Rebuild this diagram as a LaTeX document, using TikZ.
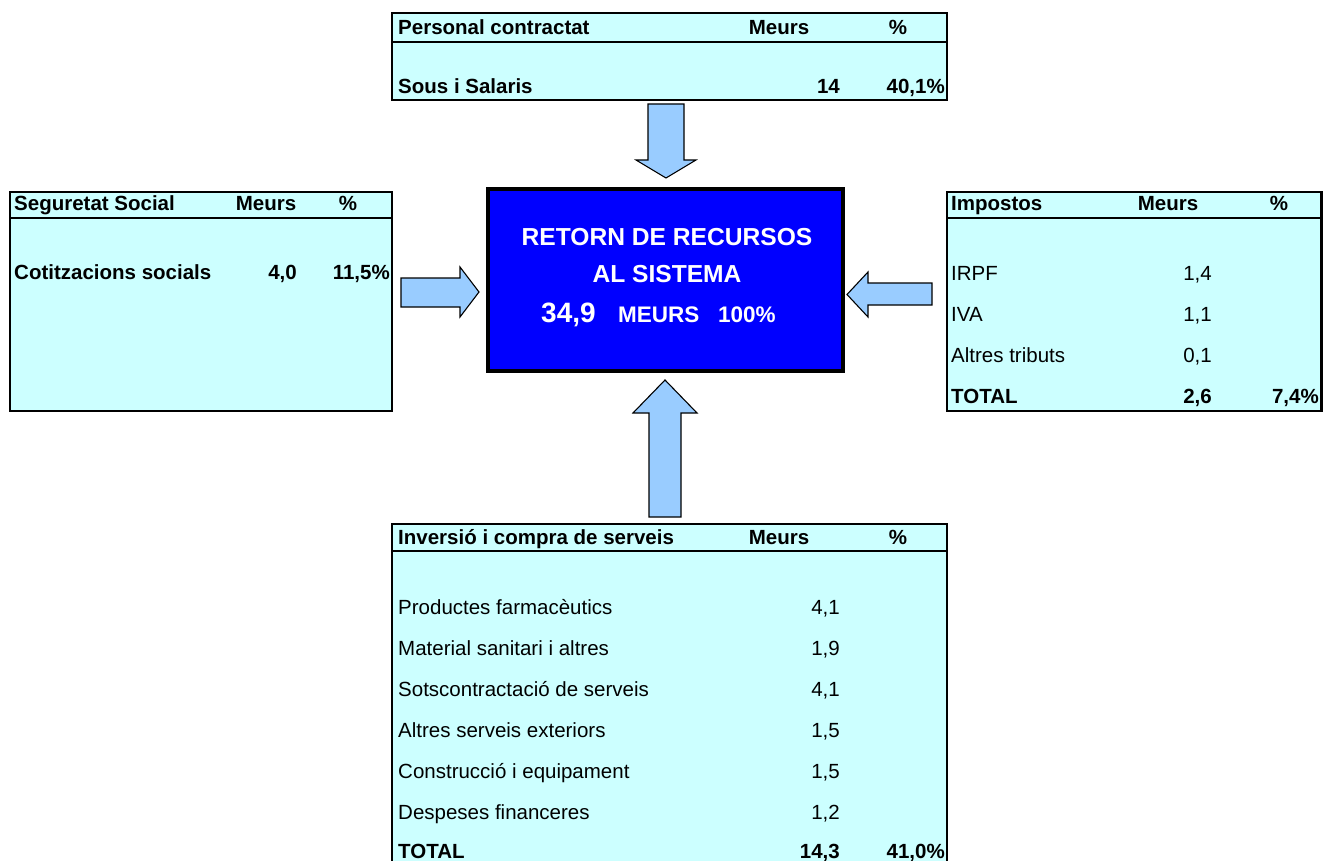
\documentclass[tikz,border=0pt]{standalone}
\usepackage{fontspec}
\setmainfont{Liberation Sans}
\definecolor{cellcyan}{HTML}{CCFFFF}
\definecolor{arrowblue}{HTML}{99CCFF}
\definecolor{boxblue}{HTML}{0000FF}
\tikzset{
  tablebox/.style={draw=black,line width=2.8pt,fill=cellcyan},
  headline/.style={line width=2.8pt},
  blockarrow/.style={draw=black,line width=1.1pt,fill=arrowblue,line join=miter},
  txt/.style={inner sep=0pt,anchor=base west,font=\fontsize{20.5}{24}\selectfont},
  txtb/.style={txt,font=\fontsize{20.5}{24}\selectfont\bfseries},
  num/.style={txt,anchor=base east},
  numb/.style={txtb,anchor=base east},
  colhead/.style={txtb,anchor=base},
}
\begin{document}
\begin{tikzpicture}[x=1pt,y=-1pt]
        \useasboundingbox (0,0) rectangle (1324,861);
        % personal contractat
        \draw[tablebox] (392,13) rectangle (947,100);
        \draw[headline] (392,42)--(947,42);
        \node[txtb] (pcHead) at (398,35) {Personal contractat};
        \node[colhead] (pcMeurs) at (779,35) {Meurs};
        \node[colhead] (pcPct) at (898,35) {\%};
        \node[txtb] (pcSous) at (398,94) {Sous i Salaris};
        \node[numb] (pcSousVal) at (840,94) {14};
        \node[numb] (pcSousPct) at (945,94) {40,1\%};
        % seguretat social
        \draw[tablebox] (10,192) rectangle (392,411);
        \draw[headline] (10,218)--(392,218);
        \node[txtb] (ssHead) at (14,211) {Seguretat Social};
        \node[colhead] (ssMeurs) at (266,211) {Meurs};
        \node[colhead] (ssPct) at (348,211) {\%};
        \node[txtb] (ssCot) at (14,279) {Cotitzacions socials};
        \node[numb] (ssCotVal) at (297,279) {4,0};
        \node[numb] (ssCotPct) at (390,279) {11,5\%};
        % impostos
        \draw[tablebox] (947,192) rectangle (1321.5,411);
        \draw[headline] (947,218)--(1321.5,218);
        \node[txtb] (imHead) at (951,211) {Impostos};
        \node[colhead] (imMeurs) at (1168,211) {Meurs};
        \node[colhead] (imPct) at (1279,211) {\%};
        \node[txt] (imIrpf) at (951,280) {IRPF};
        \node[num] (imIrpfVal) at (1212,280) {1,4};
        \node[txt] (imIva) at (951,321) {IVA};
        \node[num] (imIvaVal) at (1212,321) {1,1};
        \node[txt] (imAltres) at (951,362) {Altres tributs};
        \node[num] (imAltresVal) at (1212,362) {0,1};
        \node[txtb] (imTotal) at (951,403) {TOTAL};
        \node[numb] (imTotalVal) at (1212,403) {2,6};
        \node[numb] (imTotalPct) at (1319,403) {7,4\%};
        % inversio i compra de serveis
        \draw[tablebox] (392,524) rectangle (947,866);
        \draw[headline] (392,551)--(947,551);
        \node[txtb] (icHead) at (398,544) {Inversió i compra de serveis};
        \node[colhead] (icMeurs) at (779,544) {Meurs};
        \node[colhead] (icPct) at (898,544) {\%};
        \node[txt] (icProd) at (398,614) {Productes farmacèutics};
        \node[num] (icProdVal) at (840,614) {4,1};
        \node[txt] (icMat) at (398,655) {Material sanitari i altres};
        \node[num] (icMatVal) at (840,655) {1,9};
        \node[txt] (icSots) at (398,696) {Sotscontractació de serveis};
        \node[num] (icSotsVal) at (840,696) {4,1};
        \node[txt] (icAltres) at (398,737) {Altres serveis exteriors};
        \node[num] (icAltresVal) at (840,737) {1,5};
        \node[txt] (icCons) at (398,778) {Construcció i equipament};
        \node[num] (icConsVal) at (840,778) {1,5};
        \node[txt] (icDesp) at (398,819) {Despeses financeres};
        \node[num] (icDespVal) at (840,819) {1,2};
        \node[txtb] (icTotal) at (398,858) {TOTAL};
        \node[numb] (icTotalVal) at (840,858) {14,3};
        \node[numb] (icTotalPct) at (945,858) {41,0\%};
        % retorn de recursos
        \draw[draw=black,line width=4pt,fill=boxblue] (488,189) rectangle (843,371);
        \node[txtb,anchor=base,text=white,font=\fontsize{24.6}{28}\selectfont\bfseries] (rtLine1) at (667,245) {RETORN DE RECURSOS};
        \node[txtb,anchor=base,text=white,font=\fontsize{24.6}{28}\selectfont\bfseries] (rtLine2) at (667,282) {AL SISTEMA};
        \node[txtb,text=white,font=\fontsize{28}{32}\selectfont\bfseries] (rtTotal) at (541,322) {34,9};
        \node[txtb,text=white,font=\fontsize{22.5}{26}\selectfont\bfseries] (rtMeurs) at (618,322) {MEURS};
        \node[txtb,text=white,font=\fontsize{22.5}{26}\selectfont\bfseries] (rtPct) at (718,322) {100\%};
        % fletxes
        \draw[blockarrow] (648,104)--(684,104)--(684,160)--(696,160)--(666,178)--(636,160)--(648,160)--cycle;
        \draw[blockarrow] (649,517)--(681,517)--(681,413)--(697,413)--(665,380)--(633,413)--(649,413)--cycle;
        \draw[blockarrow] (401,278)--(460,278)--(460,267)--(479,292)--(460,317)--(460,307)--(401,307)--cycle;
        \draw[blockarrow] (932,283)--(868,283)--(868,272)--(847,294.5)--(868,317)--(868,305)--(932,305)--cycle;
\end{tikzpicture}
\end{document}
